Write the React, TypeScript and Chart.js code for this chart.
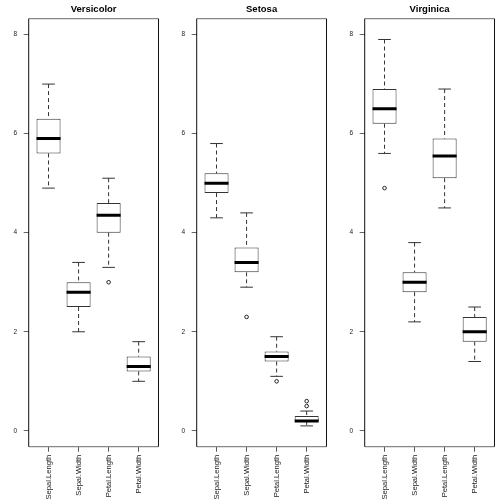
import React, { useEffect, useRef } from "react";
import { Chart, registerables } from "chart.js";

Chart.register(...registerables);

// ---- data ----
const variables = ["Sepal.Length", "Sepal.Width", "Petal.Length", "Petal.Width"];
const yTicks = [0, 2, 4, 6, 8];

// Versicolor: lower whisker, Q1, median, Q3, upper whisker, outliers
const versicolorLow = [4.9, 2.0, 3.3, 1.0];
const versicolorQ1 = [5.6, 2.5, 4.0, 1.2];
const versicolorMed = [5.9, 2.8, 4.35, 1.3];
const versicolorQ3 = [6.3, 3.0, 4.6, 1.5];
const versicolorHigh = [7.0, 3.4, 5.1, 1.8];
const versicolorOut = [[], [], [3.0], []];

// Setosa
const setosaLow = [4.3, 2.9, 1.1, 0.1];
const setosaQ1 = [4.8, 3.2, 1.4, 0.2];
const setosaMed = [5.0, 3.4, 1.5, 0.2];
const setosaQ3 = [5.2, 3.7, 1.6, 0.3];
const setosaHigh = [5.8, 4.4, 1.9, 0.4];
const setosaOut = [[], [2.3], [1.0], [0.5, 0.6]];

// Virginica
const virginicaLow = [5.6, 2.2, 4.5, 1.4];
const virginicaQ1 = [6.2, 2.8, 5.1, 1.8];
const virginicaMed = [6.5, 3.0, 5.55, 2.0];
const virginicaQ3 = [6.9, 3.2, 5.9, 2.3];
const virginicaHigh = [7.9, 3.8, 6.9, 2.5];
const virginicaOut = [[4.9], [], [], []];

const panels = [
  { title: "Versicolor", low: versicolorLow, q1: versicolorQ1, med: versicolorMed, q3: versicolorQ3, high: versicolorHigh, out: versicolorOut },
  { title: "Setosa", low: setosaLow, q1: setosaQ1, med: setosaMed, q3: setosaQ3, high: setosaHigh, out: setosaOut },
  { title: "Virginica", low: virginicaLow, q1: virginicaQ1, med: virginicaMed, q3: virginicaQ3, high: virginicaHigh, out: virginicaOut },
];

const FONT = "'Liberation Sans', Arial, Helvetica, sans-serif";
const BOX_HALF = 0.4;
const CAP_HALF = 0.21;

const framePlugin = {
  id: "frame",
  afterDraw(chart: any) {
    const { ctx, chartArea: a } = chart;
    ctx.save();
    ctx.lineWidth = 1.3;
    ctx.strokeStyle = "#888";
    ctx.beginPath();
    ctx.moveTo(a.left, a.top);
    ctx.lineTo(a.right, a.top);
    ctx.moveTo(a.left, a.bottom);
    ctx.lineTo(a.right, a.bottom);
    ctx.stroke();
    ctx.lineWidth = 1;
    ctx.strokeStyle = "#111";
    ctx.beginPath();
    ctx.moveTo(a.left, a.top);
    ctx.lineTo(a.left, a.bottom);
    ctx.moveTo(a.right, a.top);
    ctx.lineTo(a.right, a.bottom);
    ctx.stroke();
    ctx.restore();
  },
};

function BoxPanel({ p }: { p: any }) {
  const ref = useRef<HTMLCanvasElement>(null);
  useEffect(() => {
    if (!ref.current) return;
    const xs = variables.map((_, i) => i + 1);
    const boxes = xs.map((x, i) => ({ x, y: [p.q1[i], p.q3[i]] }));
    const whiskers: any[] = [];
    const caps: any[] = [];
    const medians: any[] = [];
    const outliers: any[] = [];
    xs.forEach((x, i) => {
      whiskers.push({ x, y: p.high[i] }, { x, y: p.q3[i] }, { x, y: null });
      whiskers.push({ x, y: p.q1[i] }, { x, y: p.low[i] }, { x, y: null });
      caps.push({ x: x - CAP_HALF, y: p.high[i] }, { x: x + CAP_HALF, y: p.high[i] }, { x, y: null });
      caps.push({ x: x - CAP_HALF, y: p.low[i] }, { x: x + CAP_HALF, y: p.low[i] }, { x, y: null });
      medians.push({ x: x - BOX_HALF, y: p.med[i] }, { x: x + BOX_HALF, y: p.med[i] }, { x, y: null });
      p.out[i].forEach((v: number) => outliers.push({ x, y: v }));
    });

    const chart = new Chart(ref.current, {
      type: "bar",
      data: {
        datasets: [
          {
            type: "bar",
            data: boxes as any,
            backgroundColor: "#ffffff",
            borderColor: "#333",
            borderWidth: 1,
            borderSkipped: false,
            barPercentage: 0.8,
            categoryPercentage: 1,
            order: 5,
          } as any,
          {
            type: "line",
            data: whiskers,
            borderColor: "#333",
            borderWidth: 1,
            borderDash: [4, 3],
            pointRadius: 0,
            spanGaps: false,
            order: 4,
          },
          {
            type: "line",
            data: caps,
            borderColor: "#333",
            borderWidth: 1,
            pointRadius: 0,
            spanGaps: false,
            order: 3,
          },
          {
            type: "line",
            data: medians,
            borderColor: "#000",
            borderWidth: 3,
            borderCapStyle: "butt",
            pointRadius: 0,
            spanGaps: false,
            order: 2,
          },
          {
            type: "line",
            data: outliers,
            showLine: false,
            pointRadius: 1.8,
            pointBorderWidth: 1,
            pointBackgroundColor: "#fff",
            pointBorderColor: "#222",
            order: 1,
          },
        ],
      },
      options: {
        animation: false,
        responsive: false,
        layout: { padding: { left: 0, right: 9.5, top: 0, bottom: 0 } },
        plugins: {
          legend: { display: false },
          tooltip: { enabled: false },
          title: {
            display: true,
            text: p.title,
            fullSize: false,
            color: "#000",
            font: { family: FONT, size: 9.5, weight: "bold" },
            padding: { top: 4, bottom: 3.3 },
          },
        },
        scales: {
          x: {
            type: "linear",
            min: 0.34,
            max: 4.66,
            offset: false,
            afterBuildTicks: (s: any) => {
              s.ticks = xs.map((v) => ({ value: v }));
            },
            afterFit: (s: any) => {
              s.height = 57.3;
            },
            ticks: {
              autoSkip: false,
              includeBounds: false,
              minRotation: 90,
              maxRotation: 90,
              padding: 3,
              color: "#222",
              font: { family: FONT, size: 7.6 },
              callback: (v: any) => variables[Math.round(Number(v)) - 1],
            },
            grid: {
              display: true,
              offset: false,
              drawOnChartArea: false,
              drawTicks: true,
              tickLength: 5,
              color: "#555",
            },
            border: { display: false },
          },
          y: {
            type: "linear",
            min: -0.32,
            max: 8.32,
            afterBuildTicks: (s: any) => {
              s.ticks = yTicks.map((v) => ({ value: v }));
            },
            afterFit: (s: any) => {
              s.width = 28.7;
            },
            ticks: {
              padding: 6.5,
              includeBounds: false,
              color: "#222",
              font: { family: FONT, size: 6.5 },
            },
            grid: {
              display: true,
              offset: false,
              drawOnChartArea: false,
              drawTicks: true,
              tickLength: 5,
              color: "#666",
            },
            border: { display: false },
          },
        },
      } as any,
      plugins: [framePlugin],
    });
    return () => chart.destroy();
  }, [p]);
  return <canvas ref={ref} width={168} height={504} style={{ display: "block", width: 168, height: 504 }} />;
}

export default function App() {
  return (
    <div
      style={{
        position: "absolute",
        left: 0,
        top: 0,
        width: 504,
        height: 504,
        display: "flex",
        background: "#fff",
      }}
    >
      {panels.map((p) => (
        <BoxPanel key={p.title} p={p} />
      ))}
    </div>
  );
}
